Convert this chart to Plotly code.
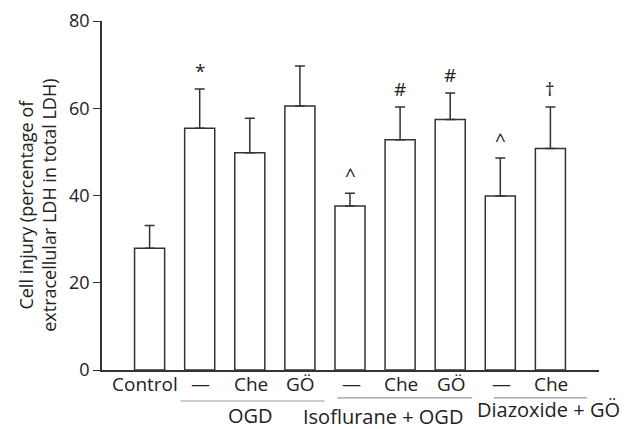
import plotly.graph_objects as go

categories = ["Control", "—", "Che", "GÖ", "—", "Che", "GÖ", "—", "Che"]
values = [27.9, 55.4, 49.8, 60.5, 37.6, 52.8, 57.4, 39.9, 50.8]
err_plus = [5.2, 9.0, 7.9, 9.2, 2.9, 7.5, 6.1, 8.7, 9.5]
marks = ["", "*", "", "", "^", "#", "#", "^", "†"]
groups = ["OGD", "Isoflurane + OGD", "Diazoxide + GÖ"]
group_spans = [(0.62, 3.49), (3.75, 6.44), (6.87, 8.73)]
group_label_x = [2.01, 4.66, 7.97]
y_ticks = [0, 20, 40, 60, 80]

FONT = "Open Sans"
TXT = "#222222"
idx = list(range(len(categories)))

fig = go.Figure()
fig.add_trace(go.Bar(
    x=idx, y=values, width=0.6,
    marker=dict(color="white", line=dict(color="#333333", width=1.5)),
    error_y=dict(type="data", symmetric=False, array=err_plus, arrayminus=[0]*len(values),
                 color="#333333", thickness=1.5, width=5),
    showlegend=False,
))

annotations = []
for i, m in enumerate(marks):
    if m:
        annotations.append(dict(x=i, y=values[i] + err_plus[i], text=m, showarrow=False,
                                yanchor="bottom", yshift=3, font=dict(family=FONT, size=19, color=TXT)))

# category labels under the axis
for i, c in enumerate(categories):
    annotations.append(dict(x=i, y=-0.040, xref="x", yref="paper", text=c, showarrow=False,
                            xshift=(-5 if i == 0 else 1), yanchor="middle",
                            font=dict(family=FONT, size=19, color=TXT)))

shapes = []
line_y = [-0.0888, -0.080, -0.080]
for (x0, x1), ly in zip(group_spans, line_y):
    shapes.append(dict(type="line", xref="x", yref="paper", x0=x0, x1=x1,
                       y0=ly, y1=ly, line=dict(color="#999999", width=1.2)))
group_y = [-0.130, -0.133, -0.112]
for g, gx, gy in zip(groups, group_label_x, group_y):
    annotations.append(dict(x=gx, y=gy, xref="x", yref="paper", text=g, showarrow=False,
                            yanchor="middle", font=dict(family=FONT, size=20, color=TXT)))

annotations.append(dict(x=-0.129, y=0.473, xref="paper", yref="paper", textangle=-90,
                        text="Cell injury (percentage of<br>extracellular LDH in total LDH)",
                        showarrow=False, xanchor="center", yanchor="middle",
                        font=dict(family=FONT, size=18, color=TXT)))

fig.update_layout(
    width=633, height=429,
    margin=dict(l=102, r=34, t=21, b=59),
    plot_bgcolor="white", paper_bgcolor="white",
    font=dict(family=FONT, size=18, color=TXT),
    annotations=annotations, shapes=shapes,
)
fig.update_xaxes(
    range=[-0.95, 8.97], tickmode="array", tickvals=idx, showticklabels=False,
    showline=True, linecolor="#333333", linewidth=1.5, ticks="", showgrid=False,
    zeroline=False, automargin=False,
)
fig.update_yaxes(
    range=[0, 80], tickvals=y_ticks, showline=True, linecolor="#333333", linewidth=1.5,
    ticks="outside", ticklen=7, tickcolor="#333333", showgrid=False, zeroline=False,
    tickfont=dict(family=FONT, size=18, color=TXT), automargin=False,
)

# remove the default page margin so the 633x429 figure fills the window exactly
fig.write_html("out.html", config={"displayModeBar": False},
               post_script="document.body.style.margin='0';document.body.style.overflow='hidden';")
